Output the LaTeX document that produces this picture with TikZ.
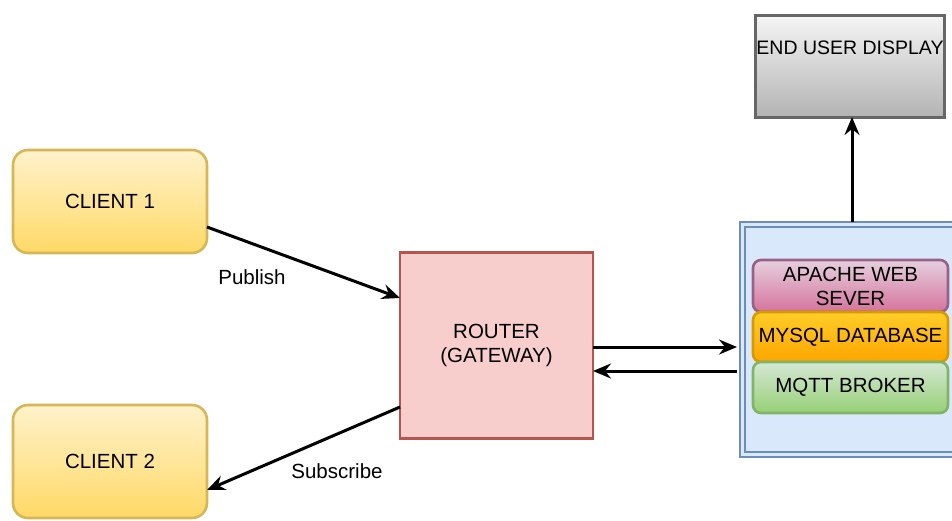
\documentclass[tikz,border=0pt]{standalone}
\usepackage{fontspec}
\setmainfont{Liberation Sans}
\usetikzlibrary{arrows.meta}
\definecolor{cliTop}{HTML}{FFF2CC}
\definecolor{cliBot}{HTML}{FFD966}
\definecolor{cliLine}{HTML}{D6B656}
\definecolor{rtFill}{HTML}{F8CECC}
\definecolor{rtLine}{HTML}{B85450}
\definecolor{srvFill}{HTML}{DAE8FC}
\definecolor{srvLine}{HTML}{6C8EBF}
\definecolor{apTop}{HTML}{E6D0DE}
\definecolor{apBot}{HTML}{D5739D}
\definecolor{apLine}{HTML}{996185}
\definecolor{myTop}{HTML}{FFCD28}
\definecolor{myBot}{HTML}{FFA500}
\definecolor{myLine}{HTML}{D79B00}
\definecolor{mqTop}{HTML}{D5E8D4}
\definecolor{mqBot}{HTML}{97D077}
\definecolor{mqLine}{HTML}{82B366}
\definecolor{euTop}{HTML}{F5F5F5}
\definecolor{euBot}{HTML}{B3B3B3}
\definecolor{euLine}{HTML}{666666}
\tikzset{
  txt/.style={font=\fontsize{20.5}{24}\selectfont, align=center, text=black},
  clientbox/.style={txt, draw=cliLine, line width=2.6pt, rounded corners=15pt, top color=cliTop, bottom color=cliBot, minimum width=194pt, inner sep=0pt},
  layerbox/.style={txt, line width=2.6pt, rounded corners=8pt, minimum width=195pt, inner sep=0pt},
  conn/.style={line width=3pt, -{Stealth[length=18pt, width=15pt, inset=6pt]}},
  lbl/.style={txt},
}
\begin{document}
\begin{tikzpicture}[x=1pt, y=-1pt]
\useasboundingbox (0,0) rectangle (952,520);
% clients
\node[clientbox, minimum height=103pt] (c1) at (110,201.5) {CLIENT 1};
\node[clientbox, minimum height=113pt] (c2) at (110,461.5) {CLIENT 2};
% router
\node[txt, draw=rtLine, fill=rtFill, line width=2.6pt, minimum width=193pt, minimum height=186pt, inner sep=0pt] (rt) at (496.5,345.5) {ROUTER\\(GATEWAY)};
% server container (double border)
\draw[srvLine, line width=2.6pt, fill=srvFill] (740,222) rectangle (970,457);
\node[draw=srvLine, line width=2.6pt, minimum width=220pt, minimum height=225pt, inner sep=0pt] (srv) at (855,339.5) {};
% layers
\node[layerbox, draw=apLine, top color=apTop, bottom color=apBot, minimum height=52pt] (ap) at (850.5,286) {APACHE WEB\\SEVER};
\node[layerbox, draw=myLine, top color=myTop, bottom color=myBot, minimum height=50pt] (my) at (850.5,337) {MYSQL DATABASE};
\node[layerbox, draw=mqLine, top color=mqTop, bottom color=mqBot, minimum height=51pt] (mq) at (850.5,387.5) {MQTT BROKER};
% end user display
\node[txt, draw=euLine, line width=3pt, top color=euTop, bottom color=euBot, minimum width=189pt, minimum height=102pt, inner sep=0pt, font=\fontsize{19.5}{23}\selectfont] (eu) at (850,66) {END USER DISPLAY\\[14pt]};
% connectors
\coordinate (srvtop) at (852,222);
\draw[conn] (srvtop) -- (852,117);
\coordinate (p1) at (207,227);
\coordinate (p2) at (400,298);
\draw[conn] (p1) -- (p2);
\coordinate (s1) at (400,407);
\coordinate (s2) at (207,490);
\draw[conn] (s1) -- (s2);
\coordinate (r1) at (593,347);
\coordinate (r2) at (737,347);
\draw[conn] (r1) -- (r2);
\coordinate (r3) at (737,371);
\coordinate (r4) at (593,371);
\draw[conn] (r3) -- (r4);
% labels
\node[lbl] (pub) at (252,277) {Publish};
\node[lbl] (sub) at (337,471) {Subscribe};
\end{tikzpicture}
\end{document}
